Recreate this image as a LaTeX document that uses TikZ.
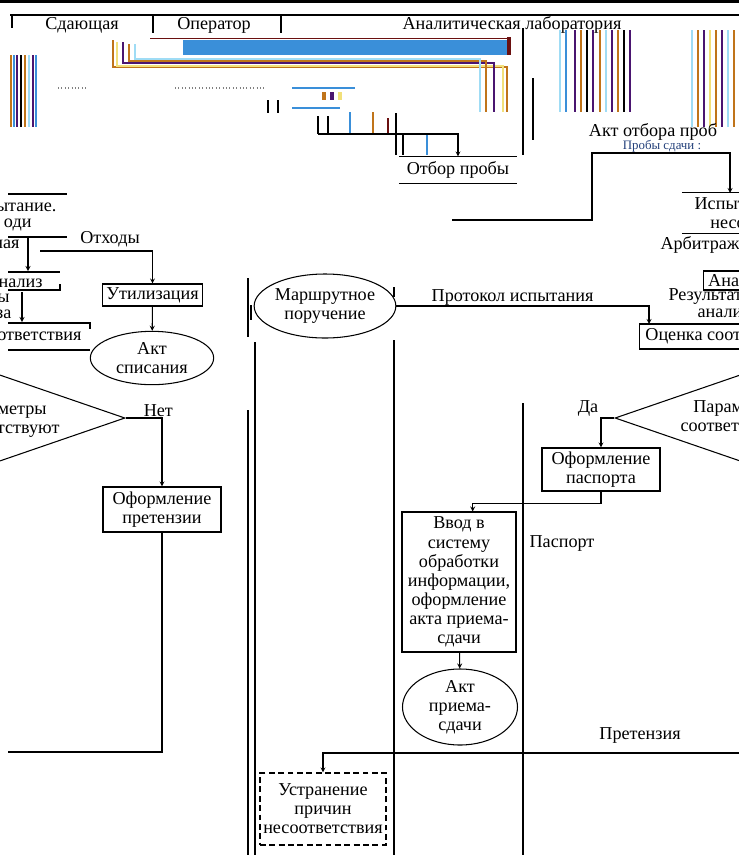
\documentclass[tikz,border=0pt]{standalone}
\usepackage{fontspec}
\setmainfont{Liberation Serif}
\usetikzlibrary{shapes.geometric}
\definecolor{barblue}{HTML}{3A8FD9}
\definecolor{capred}{HTML}{6A1010}
\definecolor{tan}{HTML}{C0741A}
\definecolor{lblue}{HTML}{9FDCF5}
\definecolor{purp}{HTML}{4A1570}
\definecolor{yel}{HTML}{F2E07A}
\definecolor{dblue}{HTML}{23407A}
\tikzstyle{proc}=[rectangle,draw=black,align=center,inner sep=1pt]
\tikzstyle{docu}=[ellipse,draw=black,align=center,inner sep=0pt]
\tikzstyle{cond}=[diamond,draw=black,inner sep=0pt]
\tikzstyle{store}=[rectangle,align=center,inner sep=1pt]
\tikzstyle{lbl}=[inner sep=0pt,align=center]

\begin{document}
\begin{tikzpicture}[x=0.03cm,y=-0.03cm,line width=0.9pt,>=stealth,font=\fontsize{15.5}{16.3}\selectfont]
\useasboundingbox (0,0) rectangle (739,855);
\clip (0,0) rectangle (739,855);

% header
\fill (0,0) rectangle (739,3);
\draw (10,15) -- (739,15);
\draw (12,15) -- (12,28);
\draw (153,15) -- (153,33);
\draw (281,15) -- (281,33);
\draw (523,28) -- (523,155);
\draw (533,78) -- (533,140);
\node (sda) at (82,25) [lbl] {Сдающая};
\node (oper) at (214,25) [lbl] {Оператор};
\node (alab) at (512,25) [lbl] {Аналитическая лаборатория};

% garbled colour lines
\fill[barblue] (183,40) rectangle (507,55);
\fill[capred] (507,37) rectangle (511,55);
\draw[capred, line width=0.6pt] (150,38) -- (507,38);
\draw[tan] (113,40) -- (113,67) -- (507,67) -- (507,112);
\draw[yel] (117,42) -- (117,66) -- (503,66) -- (503,112);
\draw[purp] (123,42) -- (123,63) -- (494,63) -- (494,112);
\draw[tan] (129,44) -- (129,61) -- (486,61) -- (486,112);
\draw[lblue] (135,44) -- (135,59) -- (480,59) -- (480,112);
\foreach \x/\c in {11/tan,14/barblue,17/purp,21/black,25/tan,29/lblue,33/purp,36/barblue}
  \draw[\c, line width=1pt] (\x,55) -- (\x,127);
\foreach \x/\c in {560/lblue,566/barblue,575/purp,581/tan,587/black,593/purp,600/tan,606/lblue,612/purp,618/tan,624/black,630/purp}
  \draw[\c, line width=1pt] (\x,30) -- (\x,112);
\foreach \x/\c in {692/lblue,698/tan,704/purp,710/yel,716/tan,722/purp,728/lblue,734/tan}
  \draw[\c, line width=1.2pt] (\x,30) -- (\x,127);
\draw[gray, dotted] (58,88) -- (88,88);
\draw[gray, dotted] (175,88) -- (265,88);
\draw[barblue] (292,88) -- (355,88);
\fill[tan] (322,92) rectangle (326,100);
\fill[purp] (330,92) rectangle (334,100);
\fill[yel] (338,92) rectangle (342,100);
\draw[barblue] (292,108) -- (340,108);
\draw (268,100) -- (268,113);
\draw (278,100) -- (278,113);
\draw (318,116) -- (318,134);
\draw (328,116) -- (328,134);
\draw[barblue] (350,112) -- (350,134);
\draw[tan] (373,112) -- (373,134);
\draw[capred] (388,118) -- (388,134);
\draw (396,113) -- (396,155);
\draw (403,135) -- (403,155);
\draw[barblue] (427,135) -- (427,155);

% sampling
\node (otbor) at (458,170) [store, minimum width=3.51cm, minimum height=0.78cm] {Отбор пробы};
\draw (otbor.north west) -- (otbor.north east);
\draw (otbor.south west) -- (otbor.south east);
\coordinate (sbor) at (318,134);
\draw[->] (sbor) -| (otbor.north);

\node (aktotb) at (653,132) [lbl] {Акт отбора проб};
\node (probsd) at (662,146) [lbl, text=dblue, font=\fontsize{11}{12}\selectfont] {Пробы сдачи :};

\node (isp) at (770,213) [store, minimum width=5.25cm, minimum height=1.2cm] {Испытание проб на\\несоответствие};
\draw (isp.north west) -- (isp.north east);
\draw (isp.south west) -- (isp.south east);
\coordinate (lw) at (452,220);
\coordinate (ispin) at (730,193);
\draw[->] (lw) -| (592,153) -| (ispin);

\node (arb) at (660,245) [lbl, anchor=west] {Арбитражный анализ};
\node (anal) at (703,280.5) [proc, anchor=west, minimum height=0.57cm, inner xsep=4pt] {Анализ};
\node (res) at (668,297) [lbl, anchor=west] {Результаты};
\node (resan) at (697,313) [lbl, anchor=west] {анализа};
\node (ocen) at (639,336.5) [proc, anchor=west, minimum height=0.75cm, inner xsep=5pt] {Оценка соответствия};

% route order
\node (marsh) at (325,306) [docu, minimum width=4.08cm, minimum height=1.92cm] {Маршрутное\\поручение};
\coordinate (ocin) at (649,324);
\draw[->] (marsh.east) -| node [pos=0.23, above=-1mm] {Протокол испытания} (ocin);

% lanes
\draw (248,278) -- (248,337);
\draw (251,305) -- (251,320);
\draw (255,342) -- (255,855);
\draw (248,410) -- (248,855);
\draw (394,287) -- (394,297);
\draw (394,340) -- (394,855);
\draw (523,403) -- (523,855);

% right decision
\node (dia2) at (760,418) [cond, minimum width=8.7cm, minimum height=3cm] {};
\node (dia2t) at (737,418) [lbl] {Параметры\\соответствуют};
\node (da) at (588,408) [lbl] {Да};
\node (pasp) at (601,469.5) [proc, minimum width=3.54cm, minimum height=1.29cm] {Оформление\\паспорта};
\draw[->] (dia2.west) -| (pasp.north);

\node (vvod) at (459,582) [proc, minimum width=3.42cm, minimum height=4.2cm] {Ввод в\\систему\\обработки\\информации,\\оформление\\акта приема-\\сдачи};
\draw[->] (pasp.south) -- ++(0,12) -| (vvod.79);
\node (paspl) at (562,543) [lbl] {Паспорт};

\node (aktpr) at (460,707) [docu, inner sep=-3pt, minimum width=3.45cm, minimum height=2.28cm] {Акт\\приема-\\сдачи};
\draw[->] (vvod) -- (aktpr);

\node (pretl) at (640,735) [lbl] {Претензия};
\node (ustr) at (323,809) [proc, dash pattern=on 5pt off 3pt, minimum width=3.78cm, minimum height=2.16cm] {Устранение\\причин\\несоответствия};
\coordinate (rend) at (739,753);
\draw[->] (rend) -| (ustr.north);

% left strip
\node (lisp) at (57,206) [lbl, anchor=east] {Испытание.};
\node (lodi) at (32,225) [lbl, anchor=east] {оди};
\node (larb) at (20,244) [lbl, anchor=east] {Арбитражная};
\node (lan) at (43,282) [lbl, anchor=east] {Анализ};
\node (lpr) at (10,298) [lbl, anchor=east] {пробы};
\node (lra) at (12,314) [lbl, anchor=east] {анализа};
\node (lsoot) at (82,336) [lbl, anchor=east] {Оценка соответствия};
\draw (8,194) -- (67,194);
\draw (8,237) -- (67,237);
\draw[->] (28,237) -- (28,271);
\draw (8,272) -- (60,272);
\draw (8,290) -- (60,290) -- (60,284);
\draw[->] (22,292) -- (22,322);
\draw (8,323) -- (90,323) -- (90,329);
\draw (8,350) -- (90,350);

\node (otx) at (110,239) [lbl] {Отходы};
\coordinate (otxin) at (40,251);
\node (util) at (152.5,295) [proc, minimum width=3cm, minimum height=0.66cm] {Утилизация};
\draw[->] (otxin) -| (util.north);
\node (aktsp) at (152,358) [docu, minimum width=3.7cm, minimum height=1.6cm] {Акт\\списания};
\draw[->] (util) -- (aktsp);

\node (dia1) at (-20,418) [cond, minimum width=8.7cm, minimum height=3cm] {};
\node (dia1t) at (3,420) [lbl] {Параметры\\соответствуют};
\node (pret) at (162,509.5) [proc, minimum width=3.54cm, minimum height=1.35cm] {Оформление\\претензии};
\draw[->] (dia1.east) -| node [pos=0.45, above=-1mm] {Нет} (pret.north);
\coordinate (lend) at (8,752);
\draw (pret.south) |- (lend);

\end{tikzpicture}
\end{document}
